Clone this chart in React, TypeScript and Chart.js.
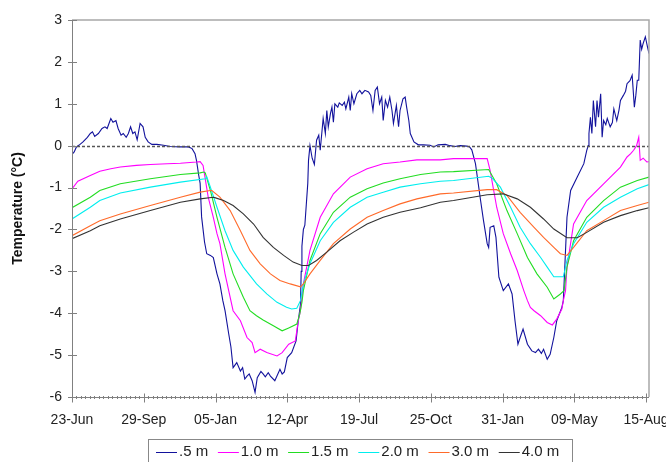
import React, { useEffect, useRef } from "react";
import { Chart, registerables } from "chart.js";

Chart.register(...registerables);

// ---- Data (day offset from 23-Jun, temperature in °C) ----
const xTickLabels = ["23-Jun", "29-Sep", "05-Jan", "12-Apr", "19-Jul", "25-Oct", "31-Jan", "09-May", "15-Aug"];
const tickStepDays = 98;
const minorPerMajor = 16;
const yTicks = [-6, -5, -4, -3, -2, -1, 0, 1, 2, 3];
const seriesNames = [".5 m", "1.0 m", "1.5 m", "2.0 m", "3.0 m", "4.0 m"];
const seriesColors = ["#12129c", "#ff00ff", "#22dd22", "#00eeee", "#ff6a2a", "#333333"];

const depth05: [number, number][] = [
  [0, -0.21], [3, -0.15], [6, -0.03], [11, 0.03], [15, 0.09], [21, 0.2], [25, 0.29], [28, 0.33], [31, 0.22], [36, 0.29],
  [41, 0.41], [45, 0.45], [48, 0.41], [53, 0.65], [56, 0.56], [60, 0.6], [63, 0.41], [67, 0.25], [70, 0.29], [74, 0.2],
  [77, 0.29], [80, 0.45], [83, 0.29], [86, 0.33], [89, 0.14], [93, 0.53], [97, 0.45], [100, 0.2], [104, 0.09], [109, 0.03],
  [116, 0.03], [125, 0.01], [134, -0.02], [148, -0.03], [159, -0.03], [164, -0.07], [168, -0.19], [170, -0.35], [173, -0.7],
  [175, -0.9], [177, -1.7], [181, -2.3], [184, -2.58], [189, -2.62], [193, -2.67], [198, -3.06], [202, -3.3], [206, -3.7],
  [209, -3.94], [214, -4.49], [217, -4.8], [220, -5.3], [225, -5.18], [230, -5.38], [233, -5.3], [236, -5.57], [239, -5.5],
  [242, -5.45], [246, -5.61], [250, -5.89], [253, -5.54], [258, -5.39], [261, -5.45], [264, -5.52], [268, -5.42], [271, -5.5],
  [277, -5.61], [284, -5.34], [287, -5.45], [290, -5.4], [294, -5.06], [300, -4.94], [306, -4.66], [309, -4.18], [312, -3.8],
  [313, -3.0], [314, -2.4], [316, -2.0], [318, -1.9], [320, -1.4], [322, -0.9], [323, -0.35], [325, 0.0], [328, -0.3],
  [331, -0.45], [334, 0.13], [337, 0.25], [339, -0.11], [343, 0.65], [346, 0.29], [348, 0.84], [350, 0.45], [353, 0.77],
  [355, 0.92], [357, 0.56], [359, 1.0], [363, 0.92], [365, 1.02], [369, 0.96], [372, 1.04], [374, 0.88], [378, 1.16],
  [380, 0.84], [382, 1.24], [385, 1.0], [389, 1.24], [393, 1.32], [396, 1.24], [400, 1.32], [405, 1.28], [408, 1.2],
  [411, 0.84], [414, 1.32], [417, 1.4], [420, 1.0], [423, 1.16], [425, 0.6], [428, 1.08], [431, 0.92], [434, 1.16],
  [437, 0.84], [439, 0.53], [443, 0.96], [446, 0.45], [448, 0.84], [452, 1.12], [455, 1.16], [457, 0.92], [460, 0.6],
  [462, 0.29], [467, 0.09], [473, 0.02], [480, 0.02], [489, 0.01], [494, -0.03], [500, 0.02], [510, 0.03], [516, 0.0],
  [523, -0.02], [530, 0.0], [539, -0.01], [543, -0.03], [546, -0.1], [551, -0.43], [558, -1.31], [562, -1.79], [567, -2.34],
  [569, -2.43], [571, -1.95], [576, -1.91], [579, -2.19], [583, -3.14], [589, -3.46], [596, -3.3], [601, -3.54], [605, -4.18],
  [609, -4.74], [612, -4.58], [616, -4.38], [622, -4.74], [628, -4.9], [633, -4.94], [637, -4.86], [641, -4.96], [644, -4.86],
  [649, -5.1], [653, -4.98], [658, -4.58], [662, -4.18], [669, -3.86], [671, -3.7], [672, -3.3], [674, -2.5], [676, -1.71],
  [681, -1.07], [690, -0.75], [699, -0.43], [703, -0.11], [705, 0.0], [706, 0.29], [708, 0.68], [710, 0.29], [712, 1.08],
  [715, 0.45], [717, 1.08], [719, 0.68], [722, 1.24], [724, 0.2], [726, 0.6], [729, 0.5], [731, 0.65], [735, 0.45],
  [738, 0.55], [740, 0.88], [744, 0.6], [747, 0.85], [749, 1.08], [753, 1.2], [756, 1.3], [758, 1.48], [762, 1.55],
  [765, 1.68], [768, 0.92], [770, 1.2], [772, 1.56], [774, 1.56], [776, 2.52], [778, 2.3], [780, 2.44], [783, 2.6],
  [786, 2.35], [788, 2.2],
];

const depth10: [number, number][] = [
  [0, -1.03], [8, -0.85], [25, -0.71], [38, -0.61], [53, -0.55], [66, -0.51], [88, -0.47], [107, -0.45], [130, -0.43],
  [148, -0.42], [170, -0.39], [175, -0.38], [179, -0.47], [186, -1.23], [193, -1.71], [198, -2.1], [202, -2.34], [209, -3.06],
  [220, -3.94], [230, -4.18], [239, -4.58], [246, -4.7], [250, -4.94], [257, -4.86], [266, -4.94], [280, -5.02], [287, -4.94],
  [296, -4.74], [305, -4.66], [309, -4.18], [312, -3.94], [316, -3.3], [325, -2.5], [339, -1.71], [357, -1.15], [380, -0.75],
  [403, -0.55], [425, -0.43], [448, -0.39], [471, -0.34], [503, -0.34], [521, -0.31], [550, -0.31], [567, -0.31], [571, -0.59],
  [580, -1.47], [589, -2.1], [599, -2.58], [608, -2.98], [617, -3.46], [622, -3.7], [626, -3.86], [631, -3.94], [640, -4.06],
  [649, -4.22], [656, -4.28], [662, -4.14], [669, -3.9], [671, -3.7], [674, -3.46], [676, -2.9], [685, -1.87], [703, -1.31],
  [726, -0.91], [749, -0.51], [758, -0.27], [763, -0.19], [767, -0.11], [771, 0.0], [774, 0.2], [776, -0.35], [780, -0.3],
  [785, -0.39], [788, -0.38],
];

const depth15: [number, number][] = [
  [0, -1.48], [25, -1.23], [38, -1.07], [66, -0.91], [107, -0.79], [148, -0.69], [175, -0.65], [180, -0.63], [182, -0.65],
  [189, -1.07], [198, -1.71], [209, -2.43], [220, -3.06], [234, -3.62], [243, -3.94], [252, -4.06], [261, -4.16], [275, -4.3],
  [287, -4.42], [296, -4.35], [307, -4.26], [311, -4.02], [314, -3.74], [316, -3.46], [325, -2.74], [339, -2.1], [357, -1.59],
  [380, -1.23], [403, -1.03], [425, -0.89], [448, -0.79], [476, -0.69], [503, -0.63], [521, -0.62], [569, -0.57], [580, -0.91],
  [594, -1.55], [608, -2.1], [622, -2.67], [635, -3.06], [649, -3.38], [658, -3.66], [667, -3.54], [672, -3.46], [676, -2.9],
  [685, -2.27], [703, -1.71], [726, -1.31], [749, -0.99], [772, -0.83], [788, -0.75],
];

const depth20: [number, number][] = [
  [0, -1.75], [25, -1.47], [38, -1.31], [66, -1.13], [107, -0.99], [148, -0.87], [182, -0.79], [184, -0.74], [189, -0.99],
  [198, -1.47], [209, -2.03], [220, -2.5], [234, -2.9], [252, -3.3], [266, -3.54], [280, -3.74], [293, -3.86], [300, -3.9],
  [307, -3.88], [312, -3.7], [316, -3.3], [325, -2.82], [339, -2.27], [357, -1.83], [380, -1.47], [403, -1.23], [425, -1.11],
  [448, -0.99], [476, -0.91], [503, -0.85], [521, -0.83], [569, -0.73], [574, -0.78], [585, -0.99], [599, -1.47], [612, -1.95],
  [626, -2.34], [640, -2.67], [649, -2.9], [658, -3.13], [671, -3.13], [676, -2.74], [685, -2.34], [703, -1.83], [726, -1.47],
  [749, -1.23], [772, -1.03], [788, -0.93],
];

const depth30: [number, number][] = [
  [0, -2.15], [25, -1.91], [38, -1.79], [66, -1.63], [107, -1.43], [148, -1.23], [175, -1.11], [189, -1.07], [191, -1.07],
  [202, -1.23], [216, -1.55], [230, -2.03], [243, -2.5], [257, -2.82], [271, -3.06], [284, -3.22], [298, -3.3], [312, -3.37],
  [316, -3.3], [325, -3.06], [339, -2.74], [357, -2.34], [380, -1.99], [403, -1.71], [425, -1.55], [448, -1.39], [471, -1.27],
  [503, -1.15], [521, -1.13], [567, -1.05], [580, -1.05], [594, -1.19], [612, -1.59], [631, -1.95], [644, -2.19], [658, -2.43],
  [667, -2.58], [676, -2.62], [685, -2.43], [703, -2.03], [726, -1.79], [749, -1.55], [772, -1.43], [788, -1.35],
];

const depth40: [number, number][] = [
  [0, -2.22], [25, -2.03], [38, -1.91], [66, -1.75], [107, -1.55], [148, -1.35], [175, -1.27], [193, -1.23], [195, -1.24],
  [207, -1.31], [220, -1.43], [234, -1.63], [248, -1.87], [261, -2.19], [275, -2.43], [289, -2.62], [302, -2.78], [314, -2.86],
  [323, -2.86], [334, -2.74], [348, -2.54], [366, -2.27], [384, -2.07], [403, -1.87], [425, -1.71], [448, -1.59], [476, -1.48],
  [503, -1.35], [521, -1.31], [567, -1.17], [589, -1.15], [608, -1.27], [626, -1.47], [644, -1.75], [658, -1.99], [676, -2.2],
  [690, -2.2], [703, -2.07], [726, -1.83], [749, -1.67], [772, -1.55], [788, -1.48],
];

const allSeries = [depth05, depth10, depth15, depth20, depth30, depth40];

const FONT = "'Liberation Sans', Arial, sans-serif";

const decorPlugin = {
  id: "decor",
  afterDatasetsDraw(chart: any) {
    const { ctx, chartArea, scales } = chart;
    const y0 = Math.round(scales.y.getPixelForValue(0)) + 0.5;
    ctx.save();
    ctx.strokeStyle = "#555555";
    ctx.lineWidth = 1.6;
    ctx.setLineDash([3, 2]);
    ctx.beginPath();
    ctx.moveTo(chartArea.left, y0);
    ctx.lineTo(chartArea.right, y0);
    ctx.stroke();
    ctx.restore();
  },
  afterDraw(chart: any) {
    const { ctx, chartArea, scales } = chart;
    const { left, right, top, bottom } = chartArea;
    ctx.save();
    // frame
    ctx.lineWidth = 1.5;
    ctx.strokeStyle = "#a8a8a8";
    ctx.beginPath();
    ctx.moveTo(left, top);
    ctx.lineTo(right, top);
    ctx.lineTo(right, bottom);
    ctx.stroke();
    ctx.lineWidth = 1;
    ctx.strokeStyle = "#808080";
    const L = Math.round(left) + 0.5;
    const B = Math.round(bottom) + 0.5;
    ctx.beginPath();
    ctx.moveTo(L, top);
    ctx.lineTo(L, B);
    ctx.lineTo(right, B);
    ctx.stroke();
    // y ticks
    ctx.beginPath();
    yTicks.forEach((v) => {
      const py = Math.round(scales.y.getPixelForValue(v)) + 0.5;
      ctx.moveTo(L - 4.5, py);
      ctx.lineTo(L + 4.5, py);
    });
    // x ticks
    const nMajor = xTickLabels.length - 1;
    for (let i = 0; i <= nMajor * minorPerMajor; i++) {
      const d = (i * tickStepDays) / minorPerMajor;
      const px = Math.round(scales.x.getPixelForValue(d)) + 0.5;
      if (i % minorPerMajor === 0) {
        ctx.moveTo(px, B - 4);
        ctx.lineTo(px, B + 5);
      } else {
        ctx.moveTo(px, B - 1.5);
        ctx.lineTo(px, B + 1.5);
      }
    }
    ctx.stroke();
    // legend
    const boxL = 148.5, boxR = 572.5, boxT = 439.5;
    ctx.strokeStyle = "#888888";
    ctx.lineWidth = 1;
    ctx.strokeRect(boxL, boxT, boxR - boxL, 30);
    ctx.font = `15px ${FONT}`;
    ctx.textBaseline = "middle";
    ctx.textAlign = "left";
    let x = 156;
    const ly = 452;
    seriesNames.forEach((name, i) => {
      ctx.strokeStyle = seriesColors[i];
      ctx.lineWidth = 1;
      ctx.beginPath();
      ctx.moveTo(x, ly + 0.5);
      ctx.lineTo(x + 21, ly + 0.5);
      ctx.stroke();
      ctx.fillStyle = "#222222";
      ctx.fillText(name, x + 23, ly);
      x += 23 + ctx.measureText(name).width + 9.7;
    });
    ctx.restore();
  },
};

export default function App() {
  const canvasRef = useRef<HTMLCanvasElement | null>(null);

  useEffect(() => {
    const canvas = canvasRef.current;
    if (!canvas) return;
    Chart.defaults.font.family = FONT;
    const datasets = allSeries.map((s, i) => ({
      label: seriesNames[i],
      data: s.map(([d, t]) => ({ x: d, y: t })),
      borderColor: seriesColors[i],
      backgroundColor: seriesColors[i],
      borderWidth: 1.1,
      pointRadius: 0,
      tension: 0,
      fill: false,
      order: seriesNames.length - i,
    }));
    const chart = new Chart(canvas, {
      type: "line",
      data: { datasets },
      plugins: [decorPlugin],
      options: {
        responsive: false,
        animation: false,
        layout: { padding: { top: 20, right: 17, left: 0, bottom: 0 } },
        plugins: { legend: { display: false }, tooltip: { enabled: false } },
        scales: {
          x: {
            type: "linear",
            min: 0,
            max: 788,
            grid: { display: false, drawTicks: false },
            border: { display: false },
            afterBuildTicks: (scale: any) => {
              scale.ticks = xTickLabels.map((_, i) => ({ value: i * tickStepDays }));
            },
            afterFit: (scale: any) => {
              scale.height = 65;
              scale.paddingLeft = 0;
              scale.paddingRight = 0;
            },
            ticks: {
              autoSkip: false,
              maxRotation: 0,
              minRotation: 0,
              padding: 15,
              color: "#222222",
              font: { size: 14, family: FONT },
              callback: (v: any) => {
                const idx = Math.round(Number(v) / tickStepDays);
                return xTickLabels[idx] ?? "";
              },
            },
          },
          y: {
            min: -6,
            max: 3,
            grid: { display: false, drawTicks: false },
            border: { display: false },
            afterBuildTicks: (scale: any) => {
              scale.ticks = yTicks.map((v) => ({ value: v }));
            },
            afterFit: (scale: any) => {
              scale.width = 72;
              scale.paddingTop = 0;
              scale.paddingBottom = 0;
            },
            ticks: {
              padding: 10,
              color: "#222222",
              font: { size: 14, family: FONT },
            },
            title: {
              display: true,
              text: "Temperature (°C)",
              color: "#111111",
              font: { size: 14, weight: "bold", family: FONT },
              padding: { top: 10, bottom: 0 },
            },
          },
        },
      },
    });
    return () => chart.destroy();
  }, []);

  return (
    <div style={{ position: "fixed", left: 0, top: 0, width: 666, height: 462, background: "#fff" }}>
      <canvas ref={canvasRef} width={666} height={462} style={{ display: "block" }} />
    </div>
  );
}
